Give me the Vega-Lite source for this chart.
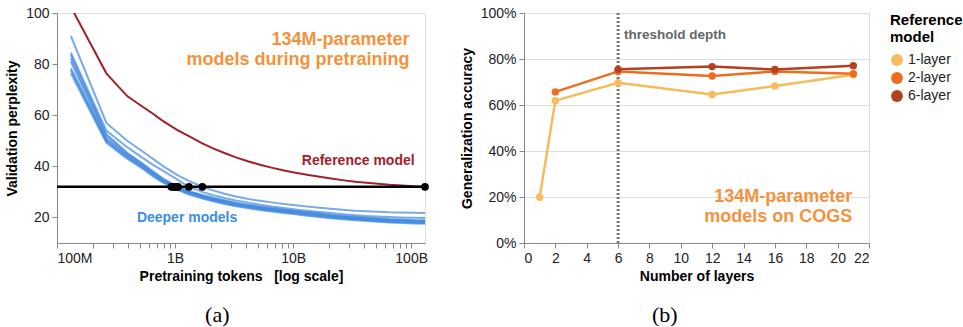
{
"$schema": "https://vega.github.io/schema/vega-lite/v6.json",
"config": {
  "font": "Liberation Sans",
  "view": {"stroke": "#dddddd"},
  "axis": {"labelFontSize": 14, "titleFontSize": 14, "titleFontWeight": "bold", "labelColor": "#222222", "titleColor": "#000000", "domainColor": "#888888", "tickColor": "#888888", "tickSize": 5, "labelPadding": 3, "grid": false, "labelOverlap": false},
  "legend": {"titleFontSize": 15, "titleFontWeight": "bold", "titleColor": "#000000", "titleLineHeight": 17, "labelFontSize": 14, "labelColor": "#222222", "symbolSize": 140, "symbolType": "circle", "rowPadding": 4, "titlePadding": 8, "offset": 20, "symbolStrokeWidth": 0}
},
"spacing": 29,
"datasets": {
"deep": [
{"m":"d1","t":1.31e8,"p":91},{"m":"d1","t":2.62e8,"p":57},{"m":"d1","t":3.93e8,"p":50},{"m":"d1","t":5.24e8,"p":46},{"m":"d1","t":6.55e8,"p":42.8},{"m":"d1","t":7.86e8,"p":40.2},{"m":"d1","t":1.048e9,"p":36.6},{"m":"d1","t":1.31e9,"p":34.3},{"m":"d1","t":1.703e9,"p":32.0},{"m":"d1","t":2.096e9,"p":30.6},{"m":"d1","t":2.62e9,"p":29.3},{"m":"d1","t":3.275e9,"p":28.2},{"m":"d1","t":4.192e9,"p":27.2},{"m":"d1","t":5.24e9,"p":26.5},{"m":"d1","t":6.55e9,"p":25.9},{"m":"d1","t":8.384e9,"p":25.3},{"m":"d1","t":1.048e10,"p":24.8},{"m":"d1","t":1.31e10,"p":24.3},{"m":"d1","t":1.677e10,"p":23.8},{"m":"d1","t":2.096e10,"p":23.4},{"m":"d1","t":2.62e10,"p":23.0},{"m":"d1","t":3.354e10,"p":22.6},{"m":"d1","t":4.192e10,"p":22.4},{"m":"d1","t":5.24e10,"p":22.2},{"m":"d1","t":6.55e10,"p":22.0},{"m":"d1","t":8.384e10,"p":21.9},{"m":"d1","t":1.048e11,"p":21.8},{"m":"d1","t":1.31e11,"p":21.7},
{"m":"d2","t":1.31e8,"p":84.5},{"m":"d2","t":2.62e8,"p":54},{"m":"d2","t":3.93e8,"p":47.5},{"m":"d2","t":5.24e8,"p":43.5},{"m":"d2","t":6.55e8,"p":40.5},{"m":"d2","t":7.86e8,"p":38.3},{"m":"d2","t":1.048e9,"p":34.8},{"m":"d2","t":1.31e9,"p":32.0},{"m":"d2","t":1.703e9,"p":30.0},{"m":"d2","t":2.096e9,"p":28.7},{"m":"d2","t":2.62e9,"p":27.6},{"m":"d2","t":3.275e9,"p":26.6},{"m":"d2","t":4.192e9,"p":25.8},{"m":"d2","t":5.24e9,"p":25.0},{"m":"d2","t":6.55e9,"p":24.3},{"m":"d2","t":8.384e9,"p":23.7},{"m":"d2","t":1.048e10,"p":23.1},{"m":"d2","t":1.31e10,"p":22.6},{"m":"d2","t":1.677e10,"p":22.1},{"m":"d2","t":2.096e10,"p":21.7},{"m":"d2","t":2.62e10,"p":21.3},{"m":"d2","t":3.354e10,"p":20.9},{"m":"d2","t":4.192e10,"p":20.6},{"m":"d2","t":5.24e10,"p":20.4},{"m":"d2","t":6.55e10,"p":20.2},{"m":"d2","t":8.384e10,"p":20.0},{"m":"d2","t":1.048e11,"p":19.9},{"m":"d2","t":1.31e11,"p":19.8},
{"m":"d3","t":1.31e8,"p":83.6},{"m":"d3","t":2.62e8,"p":52.6},{"m":"d3","t":3.93e8,"p":45.3},{"m":"d3","t":5.24e8,"p":41.3},{"m":"d3","t":6.55e8,"p":38.0},{"m":"d3","t":7.86e8,"p":35.3},{"m":"d3","t":1.048e9,"p":32.1},{"m":"d3","t":1.31e9,"p":30.4},{"m":"d3","t":1.703e9,"p":28.8},{"m":"d3","t":2.096e9,"p":27.7},{"m":"d3","t":2.62e9,"p":26.7},{"m":"d3","t":3.275e9,"p":25.8},{"m":"d3","t":4.192e9,"p":25.0},{"m":"d3","t":5.24e9,"p":24.3},{"m":"d3","t":6.55e9,"p":23.7},{"m":"d3","t":8.384e9,"p":23.1},{"m":"d3","t":1.048e10,"p":22.6},{"m":"d3","t":1.31e10,"p":22.1},{"m":"d3","t":1.677e10,"p":21.6},{"m":"d3","t":2.096e10,"p":21.1},{"m":"d3","t":2.62e10,"p":20.7},{"m":"d3","t":3.354e10,"p":20.3},{"m":"d3","t":4.192e10,"p":20.0},{"m":"d3","t":5.24e10,"p":19.7},{"m":"d3","t":6.55e10,"p":19.4},{"m":"d3","t":8.384e10,"p":19.2},{"m":"d3","t":1.048e11,"p":19.0},{"m":"d3","t":1.31e11,"p":18.9},
{"m":"d4","t":1.31e8,"p":82.3},{"m":"d4","t":2.62e8,"p":52.0},{"m":"d4","t":3.93e8,"p":45.0},{"m":"d4","t":5.24e8,"p":41.0},{"m":"d4","t":6.55e8,"p":37.6},{"m":"d4","t":7.86e8,"p":35.0},{"m":"d4","t":1.048e9,"p":31.8},{"m":"d4","t":1.31e9,"p":30.1},{"m":"d4","t":1.703e9,"p":28.5},{"m":"d4","t":2.096e9,"p":27.4},{"m":"d4","t":2.62e9,"p":26.4},{"m":"d4","t":3.275e9,"p":25.5},{"m":"d4","t":4.192e9,"p":24.7},{"m":"d4","t":5.24e9,"p":24.0},{"m":"d4","t":6.55e9,"p":23.4},{"m":"d4","t":8.384e9,"p":22.8},{"m":"d4","t":1.048e10,"p":22.3},{"m":"d4","t":1.31e10,"p":21.8},{"m":"d4","t":1.677e10,"p":21.3},{"m":"d4","t":2.096e10,"p":20.8},{"m":"d4","t":2.62e10,"p":20.4},{"m":"d4","t":3.354e10,"p":20.0},{"m":"d4","t":4.192e10,"p":19.7},{"m":"d4","t":5.24e10,"p":19.4},{"m":"d4","t":6.55e10,"p":19.1},{"m":"d4","t":8.384e10,"p":18.9},{"m":"d4","t":1.048e11,"p":18.7},{"m":"d4","t":1.31e11,"p":18.6},
{"m":"d5","t":1.31e8,"p":81.0},{"m":"d5","t":2.62e8,"p":51.0},{"m":"d5","t":3.93e8,"p":44.5},{"m":"d5","t":5.24e8,"p":40.5},{"m":"d5","t":6.55e8,"p":37.2},{"m":"d5","t":7.86e8,"p":34.7},{"m":"d5","t":1.048e9,"p":31.6},{"m":"d5","t":1.31e9,"p":29.9},{"m":"d5","t":1.703e9,"p":28.3},{"m":"d5","t":2.096e9,"p":27.2},{"m":"d5","t":2.62e9,"p":26.2},{"m":"d5","t":3.275e9,"p":25.3},{"m":"d5","t":4.192e9,"p":24.5},{"m":"d5","t":5.24e9,"p":23.8},{"m":"d5","t":6.55e9,"p":23.2},{"m":"d5","t":8.384e9,"p":22.6},{"m":"d5","t":1.048e10,"p":22.1},{"m":"d5","t":1.31e10,"p":21.6},{"m":"d5","t":1.677e10,"p":21.1},{"m":"d5","t":2.096e10,"p":20.6},{"m":"d5","t":2.62e10,"p":20.2},{"m":"d5","t":3.354e10,"p":19.8},{"m":"d5","t":4.192e10,"p":19.5},{"m":"d5","t":5.24e10,"p":19.2},{"m":"d5","t":6.55e10,"p":18.9},{"m":"d5","t":8.384e10,"p":18.7},{"m":"d5","t":1.048e11,"p":18.5},{"m":"d5","t":1.31e11,"p":18.4},
{"m":"d6","t":1.31e8,"p":78.4},{"m":"d6","t":2.62e8,"p":50.4},{"m":"d6","t":3.93e8,"p":44.0},{"m":"d6","t":5.24e8,"p":40.1},{"m":"d6","t":6.55e8,"p":36.8},{"m":"d6","t":7.86e8,"p":34.4},{"m":"d6","t":1.048e9,"p":31.4},{"m":"d6","t":1.31e9,"p":29.6},{"m":"d6","t":1.703e9,"p":28.0},{"m":"d6","t":2.096e9,"p":26.9},{"m":"d6","t":2.62e9,"p":25.9},{"m":"d6","t":3.275e9,"p":25.0},{"m":"d6","t":4.192e9,"p":24.2},{"m":"d6","t":5.24e9,"p":23.5},{"m":"d6","t":6.55e9,"p":22.9},{"m":"d6","t":8.384e9,"p":22.3},{"m":"d6","t":1.048e10,"p":21.8},{"m":"d6","t":1.31e10,"p":21.3},{"m":"d6","t":1.677e10,"p":20.8},{"m":"d6","t":2.096e10,"p":20.3},{"m":"d6","t":2.62e10,"p":19.9},{"m":"d6","t":3.354e10,"p":19.5},{"m":"d6","t":4.192e10,"p":19.2},{"m":"d6","t":5.24e10,"p":18.9},{"m":"d6","t":6.55e10,"p":18.6},{"m":"d6","t":8.384e10,"p":18.4},{"m":"d6","t":1.048e11,"p":18.2},{"m":"d6","t":1.31e11,"p":18.1},
{"m":"d7","t":1.31e8,"p":77.7},{"m":"d7","t":2.62e8,"p":49.8},{"m":"d7","t":3.93e8,"p":43.5},{"m":"d7","t":5.24e8,"p":39.7},{"m":"d7","t":6.55e8,"p":36.4},{"m":"d7","t":7.86e8,"p":34.0},{"m":"d7","t":1.048e9,"p":31.1},{"m":"d7","t":1.31e9,"p":29.3},{"m":"d7","t":1.703e9,"p":27.7},{"m":"d7","t":2.096e9,"p":26.6},{"m":"d7","t":2.62e9,"p":25.6},{"m":"d7","t":3.275e9,"p":24.7},{"m":"d7","t":4.192e9,"p":23.9},{"m":"d7","t":5.24e9,"p":23.2},{"m":"d7","t":6.55e9,"p":22.6},{"m":"d7","t":8.384e9,"p":22.0},{"m":"d7","t":1.048e10,"p":21.5},{"m":"d7","t":1.31e10,"p":21.0},{"m":"d7","t":1.677e10,"p":20.5},{"m":"d7","t":2.096e10,"p":20.0},{"m":"d7","t":2.62e10,"p":19.6},{"m":"d7","t":3.354e10,"p":19.2},{"m":"d7","t":4.192e10,"p":18.9},{"m":"d7","t":5.24e10,"p":18.6},{"m":"d7","t":6.55e10,"p":18.3},{"m":"d7","t":8.384e10,"p":18.1},{"m":"d7","t":1.048e11,"p":17.9},{"m":"d7","t":1.31e11,"p":17.8},
{"m":"d8","t":1.31e8,"p":76.4},{"m":"d8","t":2.62e8,"p":49.2},{"m":"d8","t":3.93e8,"p":43.0},{"m":"d8","t":5.24e8,"p":39.3},{"m":"d8","t":6.55e8,"p":36.0},{"m":"d8","t":7.86e8,"p":33.7},{"m":"d8","t":1.048e9,"p":30.8},{"m":"d8","t":1.31e9,"p":29.0},{"m":"d8","t":1.703e9,"p":27.4},{"m":"d8","t":2.096e9,"p":26.3},{"m":"d8","t":2.62e9,"p":25.3},{"m":"d8","t":3.275e9,"p":24.4},{"m":"d8","t":4.192e9,"p":23.6},{"m":"d8","t":5.24e9,"p":22.9},{"m":"d8","t":6.55e9,"p":22.3},{"m":"d8","t":8.384e9,"p":21.7},{"m":"d8","t":1.048e10,"p":21.2},{"m":"d8","t":1.31e10,"p":20.7},{"m":"d8","t":1.677e10,"p":20.2},{"m":"d8","t":2.096e10,"p":19.7},{"m":"d8","t":2.62e10,"p":19.3},{"m":"d8","t":3.354e10,"p":18.9},{"m":"d8","t":4.192e10,"p":18.6},{"m":"d8","t":5.24e10,"p":18.3},{"m":"d8","t":6.55e10,"p":18.0},{"m":"d8","t":8.384e10,"p":17.8},{"m":"d8","t":1.048e11,"p":17.6},{"m":"d8","t":1.31e11,"p":17.5}
],
"ref": [
{"t":1.31e8,"p":102.4},{"t":2.62e8,"p":76.4},{"t":3.93e8,"p":67.5},{"t":5.24e8,"p":63.5},{"t":6.55e8,"p":60.5},{"t":7.86e8,"p":57.8},{"t":1.048e9,"p":54.2},{"t":1.31e9,"p":51.8},{"t":1.703e9,"p":49.0},{"t":2.096e9,"p":47.0},{"t":2.62e9,"p":45.2},{"t":3.275e9,"p":43.5},{"t":4.192e9,"p":41.9},{"t":5.24e9,"p":40.6},{"t":6.55e9,"p":39.5},{"t":8.384e9,"p":38.4},{"t":1.048e10,"p":37.5},{"t":1.31e10,"p":36.7},{"t":1.677e10,"p":35.9},{"t":2.096e10,"p":35.2},{"t":2.62e10,"p":34.6},{"t":3.354e10,"p":34.0},{"t":4.192e10,"p":33.6},{"t":5.24e10,"p":33.2},{"t":6.55e10,"p":32.8},{"t":8.384e10,"p":32.5},{"t":1.048e11,"p":32.2},{"t":1.31e11,"p":32.0}
],
"cross": [
{"t":9.3e8,"p":32},{"t":9.6e8,"p":32},{"t":9.9e8,"p":32},{"t":1.01e9,"p":32},{"t":1.03e9,"p":32},{"t":1.06e9,"p":32},{"t":1.31e9,"p":32},{"t":1.703e9,"p":32},{"t":1.31e11,"p":32}
],
"acc": [
{"r":"1-layer","n":1,"a":0.199},{"r":"1-layer","n":2,"a":0.619},{"r":"1-layer","n":6,"a":0.697},{"r":"1-layer","n":12,"a":0.646},{"r":"1-layer","n":16,"a":0.683},{"r":"1-layer","n":21,"a":0.732},
{"r":"2-layer","n":2,"a":0.657},{"r":"2-layer","n":6,"a":0.746},{"r":"2-layer","n":12,"a":0.726},{"r":"2-layer","n":16,"a":0.746},{"r":"2-layer","n":21,"a":0.736},
{"r":"6-layer","n":6,"a":0.755},{"r":"6-layer","n":12,"a":0.767},{"r":"6-layer","n":16,"a":0.754},{"r":"6-layer","n":21,"a":0.771}
]
},
"hconcat": [
{
  "width": 368, "height": 230,
  "title": {"text": "(a)", "orient": "bottom", "anchor": "middle", "frame": "bounds", "font": "Liberation Serif", "fontSize": 22, "fontWeight": "normal", "color": "#000000", "offset": 22},
  "layer": [
    {"data": {"name": "deep"}, "mark": {"type": "line", "color": "#3f88de", "opacity": 0.7, "strokeWidth": 2},
     "encoding": {
       "x": {"field": "t", "type": "quantitative", "scale": {"type": "log", "domain": [1e8, 1.31e11], "nice": false},
             "axis": {"title": "Pretraining tokens\u00a0\u00a0 [log scale]", "titlePadding": 4,
                      "values": [1e8,2e8,3e8,4e8,5e8,6e8,7e8,8e8,9e8,1e9,2e9,3e9,4e9,5e9,6e9,7e9,8e9,9e9,1e10,2e10,3e10,4e10,5e10,6e10,7e10,8e10,9e10,1e11],
                      "labelExpr": "datum.value == 1e8 ? '100M' : datum.value == 1e9 ? '1B' : datum.value == 1e10 ? '10B' : datum.value == 1e11 ? '100B' : ''"}},
       "y": {"field": "p", "type": "quantitative", "scale": {"domain": [10, 100], "nice": false, "zero": false},
             "axis": {"title": "Validation perplexity", "values": [20, 40, 60, 80, 100], "titlePadding": 6}},
       "detail": {"field": "m", "type": "nominal"}
     }},
    {"data": {"name": "ref"}, "mark": {"type": "line", "color": "#a3202b", "strokeWidth": 2, "clip": true},
     "encoding": {
       "x": {"field": "t", "type": "quantitative", "scale": {"type": "log", "domain": [1e8, 1.31e11], "nice": false}},
       "y": {"field": "p", "type": "quantitative", "scale": {"domain": [10, 100], "nice": false, "zero": false}}
     }},
    {"data": {"values": [{"p": 32}]}, "mark": {"type": "rule", "color": "#000000", "strokeWidth": 2.5},
     "encoding": {
       "y": {"field": "p", "type": "quantitative", "scale": {"domain": [10, 100], "nice": false, "zero": false}}
     }},
    {"data": {"name": "cross"}, "mark": {"type": "point", "filled": true, "color": "#000000", "size": 60, "opacity": 1},
     "encoding": {
       "x": {"field": "t", "type": "quantitative", "scale": {"type": "log", "domain": [1e8, 1.31e11], "nice": false}},
       "y": {"field": "p", "type": "quantitative", "scale": {"domain": [10, 100], "nice": false, "zero": false}}
     }},
    {"data": {"values": [{}]}, "mark": {"type": "text", "text": ["134M-parameter", "models during pretraining"], "align": "right", "baseline": "alphabetic", "fontSize": 18, "fontWeight": "bold", "color": "#f4923c", "lineHeight": 20},
     "encoding": {
       "x": {"datum": 9.7e10, "type": "quantitative", "scale": {"type": "log", "domain": [1e8, 1.31e11], "nice": false}},
       "y": {"datum": 87.5, "type": "quantitative", "scale": {"domain": [10, 100], "nice": false, "zero": false}}
     }},
    {"data": {"values": [{}]}, "mark": {"type": "text", "text": "Reference model", "align": "right", "baseline": "alphabetic", "fontSize": 14, "fontWeight": "bold", "color": "#a3202b"},
     "encoding": {
       "x": {"datum": 1.07e11, "type": "quantitative", "scale": {"type": "log", "domain": [1e8, 1.31e11], "nice": false}},
       "y": {"datum": 40.4, "type": "quantitative", "scale": {"domain": [10, 100], "nice": false, "zero": false}}
     }},
    {"data": {"values": [{}]}, "mark": {"type": "text", "text": "Deeper models", "align": "left", "baseline": "alphabetic", "fontSize": 14, "fontWeight": "bold", "color": "#3b8ce0"},
     "encoding": {
       "x": {"datum": 4.75e8, "type": "quantitative", "scale": {"type": "log", "domain": [1e8, 1.31e11], "nice": false}},
       "y": {"datum": 18.4, "type": "quantitative", "scale": {"domain": [10, 100], "nice": false, "zero": false}}
     }}
  ]
},
{
  "width": 345, "height": 230,
  "title": {"text": "(b)", "orient": "bottom", "anchor": "middle", "frame": "bounds", "font": "Liberation Serif", "fontSize": 22, "fontWeight": "normal", "color": "#000000", "offset": 22},
  "layer": [
    {"data": {"name": "acc"}, "mark": {"type": "line", "strokeWidth": 2.5},
     "encoding": {
       "x": {"field": "n", "type": "quantitative", "scale": {"domain": [0, 22], "nice": false},
             "axis": {"title": "Number of layers", "titlePadding": 4, "labelOverlap": false, "tickCount": 12, "values": [0,2,4,6,8,10,12,14,16,18,20,22]}},
       "y": {"field": "a", "type": "quantitative", "scale": {"domain": [0, 1], "nice": false},
             "axis": {"title": "Generalization accuracy", "titlePadding": 6, "format": ".0%", "values": [0, 0.2, 0.4, 0.6, 0.8, 1], "grid": true, "gridColor": "#dddddd"}},
       "color": {"field": "r", "type": "nominal", "scale": {"domain": ["1-layer", "2-layer", "6-layer"], "range": ["#f8bb5b", "#ee6d1d", "#b3401f"]},
                 "legend": {"title": ["Reference", "model"], "symbolType": "circle"}}
     }},
    {"data": {"values": [{}]}, "mark": {"type": "rule", "color": "#777777", "strokeWidth": 3, "strokeDash": [2, 2]},
     "encoding": {
       "x": {"datum": 6, "type": "quantitative", "scale": {"domain": [0, 22], "nice": false}}
     }},
    {"data": {"name": "acc"}, "mark": {"type": "point", "filled": true, "size": 55, "opacity": 1},
     "encoding": {
       "x": {"field": "n", "type": "quantitative", "scale": {"domain": [0, 22], "nice": false}},
       "y": {"field": "a", "type": "quantitative", "scale": {"domain": [0, 1], "nice": false}},
       "color": {"field": "r", "type": "nominal", "scale": {"domain": ["1-layer", "2-layer", "6-layer"], "range": ["#f8bb5b", "#ee6d1d", "#b3401f"]},
                 "legend": {"title": ["Reference", "model"], "symbolType": "circle"}}
     }},
    {"data": {"values": [{}]}, "mark": {"type": "text", "text": "threshold depth", "align": "left", "baseline": "alphabetic", "fontSize": 13.5, "fontWeight": "bold", "color": "#666666"},
     "encoding": {
       "x": {"datum": 6.38, "type": "quantitative", "scale": {"domain": [0, 22], "nice": false}},
       "y": {"datum": 0.887, "type": "quantitative", "scale": {"domain": [0, 1], "nice": false}}
     }},
    {"data": {"values": [{}]}, "mark": {"type": "text", "text": ["134M-parameter", "models on COGS"], "align": "right", "baseline": "alphabetic", "fontSize": 18, "fontWeight": "bold", "color": "#f4923c", "lineHeight": 20.4},
     "encoding": {
       "x": {"datum": 20.94, "type": "quantitative", "scale": {"domain": [0, 22], "nice": false}},
       "y": {"datum": 0.178, "type": "quantitative", "scale": {"domain": [0, 1], "nice": false}}
     }}
  ]
}
]
}
